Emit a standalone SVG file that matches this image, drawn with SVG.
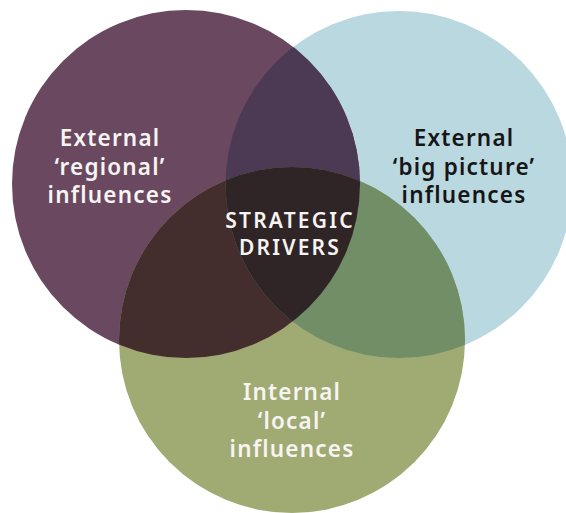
<svg xmlns="http://www.w3.org/2000/svg" width="566" height="513" viewBox="0 0 566 513">
<defs>
<style>
.t{font-family:"Noto Sans","Open Sans","Liberation Sans",sans-serif;font-weight:600;font-size:22.5px;text-anchor:middle;letter-spacing:1.2px}
.c{font-size:21px;letter-spacing:2.2px}
.w{fill:#f7f4f2}
.k{fill:#161616}
</style>
<clipPath id="cP"><circle cx="186" cy="184" r="174"/></clipPath>
<clipPath id="cB"><circle cx="399" cy="184.5" r="173.5"/></clipPath>
</defs>
<rect width="566" height="513" fill="#ffffff"/>
<g id="blue">
<circle cx="399" cy="184.5" r="173.5" fill="#b9d8e0"/>
</g>
<g id="purple">
<circle cx="186" cy="184" r="174" fill="#694860"/>
</g>
<g id="green">
<circle cx="292" cy="340" r="173" fill="#a0aa73"/>
</g>
<g id="overlaps">
<circle cx="399" cy="184.5" r="173.5" fill="#4c3a55" clip-path="url(#cP)"/>
<circle cx="292" cy="340" r="173" fill="#432d2d" clip-path="url(#cP)"/>
<circle cx="292" cy="340" r="173" fill="#718e66" clip-path="url(#cB)"/>
<g clip-path="url(#cP)"><circle cx="292" cy="340" r="173" fill="#302526" clip-path="url(#cB)"/></g>
</g>
<g id="label-regional" class="t w">
<text x="110" y="146">External</text>
<text x="110" y="175">‘regional’</text>
<text x="110" y="203">influences</text>
</g>
<g id="label-bigpicture" class="t k">
<text x="464" y="146">External</text>
<text x="464" y="175">‘big picture’</text>
<text x="464" y="203">influences</text>
</g>
<g id="label-center" class="t c w">
<text x="290" y="228">STRATEGIC</text>
<text x="290" y="255">DRIVERS</text>
</g>
<g id="label-local" class="t w">
<text x="292" y="400">Internal</text>
<text x="292" y="429">‘local’</text>
<text x="292" y="457">influences</text>
</g>
</svg>
